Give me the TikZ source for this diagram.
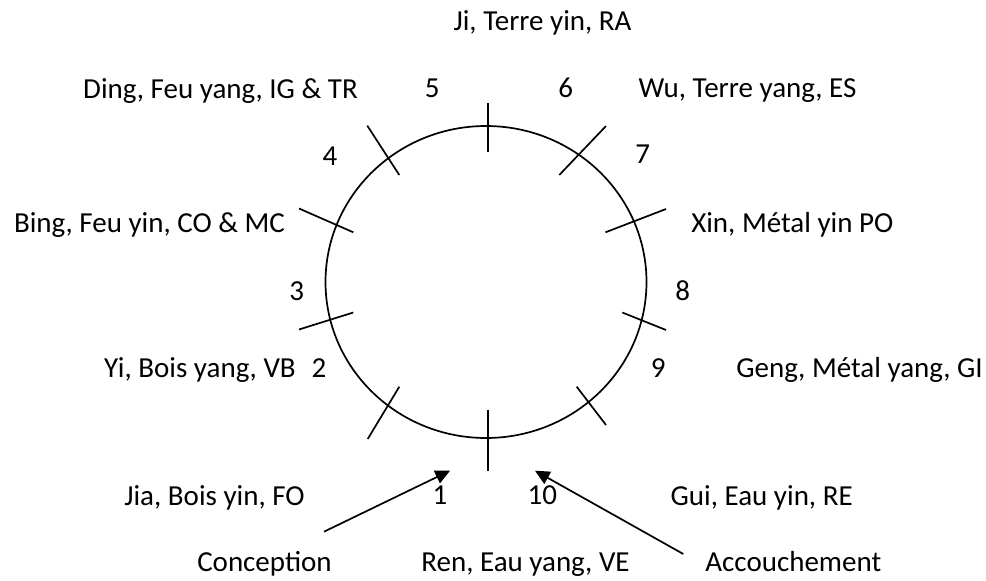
\documentclass[tikz,border=0pt]{standalone}
\usepackage{fontspec}
\setmainfont{Carlito}
\usetikzlibrary{arrows.meta}
\begin{document}
\begin{tikzpicture}[x=1pt,y=-1pt,
  lbl/.style={anchor=base,inner sep=0pt,font=\fontsize{29}{34}\selectfont},
  tickline/.style={line width=1.7pt},
  ring/.style={line width=1.7pt},
  arr/.style={line width=1.7pt,-{Triangle[length=14.6pt,width=13.7pt]}}]
\useasboundingbox (0,0) rectangle (986,581);
% circle
\draw[ring] (486,282) ellipse [x radius=160.5pt, y radius=156pt];
% ticks
\draw[tickline] (488,103) -- (488,152);
\draw[tickline] (367.3,125.7) -- (399.3,175);
\draw[tickline] (606,126) -- (559.3,175);
\draw[tickline] (299,208.5) -- (353.3,232.3);
\draw[tickline] (666,209) -- (605.5,232.3);
\draw[tickline] (299,329.5) -- (353.3,312.5);
\draw[tickline] (622.3,312.5) -- (666,330);
\draw[tickline] (399.3,386.7) -- (367.7,439);
\draw[tickline] (576.7,386.7) -- (606,425);
\draw[tickline] (488,409.5) -- (488,471);
% labels
\node[lbl] (ji) at (542.5,30.7) {Ji, Terre yin, RA};
\node[lbl] (ding) at (220.5,98.3) {Ding, Feu yang, IG \& TR};
\node[lbl] (n5) at (432.3,97.3) {5};
\node[lbl] (n6) at (565.7,97.3) {6};
\node[lbl] (wu) at (747.5,97.3) {Wu, Terre yang, ES};
\node[lbl] (n4) at (330,165) {4};
\node[lbl] (n7) at (642.7,163.3) {7};
\node[lbl] (bing) at (149.5,232.3) {Bing, Feu yin, CO \& MC};
\node[lbl] (xin) at (792.3,232.3) {Xin, Métal yin PO};
\node[lbl] (n3) at (296.7,300) {3};
\node[lbl] (n8) at (682.7,300) {8};
\node[lbl] (yi) at (200,377.3) {Yi, Bois yang, VB};
\node[lbl] (n2) at (319,377.3) {2};
\node[lbl] (n9) at (658.3,377.3) {9};
\node[lbl] (geng) at (859.5,377.3) {Geng, Métal yang, GI};
\node[lbl] (jia) at (214.5,505) {Jia, Bois yin, FO};
\node[lbl] (n1) at (440,504) {1};
\node[lbl] (n10) at (542.3,504) {10};
\node[lbl] (gui) at (761.7,505) {Gui, Eau yin, RE};
\node[lbl] (conc) at (264.5,571.7) {Conception};
\node[lbl] (ren) at (525.5,571.7) {Ren, Eau yang, VE};
\node[lbl] (acc) at (793.3,571.7) {Accouchement};
% arrows
\coordinate (concTail) at (324,531.7);
\coordinate (concTip) at (450,470.7);
\coordinate (accTail) at (683.3,554);
\coordinate (accTip) at (535,470.7);
\draw[arr] (concTail) -- (concTip);
\draw[arr] (accTail) -- (accTip);
\end{tikzpicture}
\end{document}
